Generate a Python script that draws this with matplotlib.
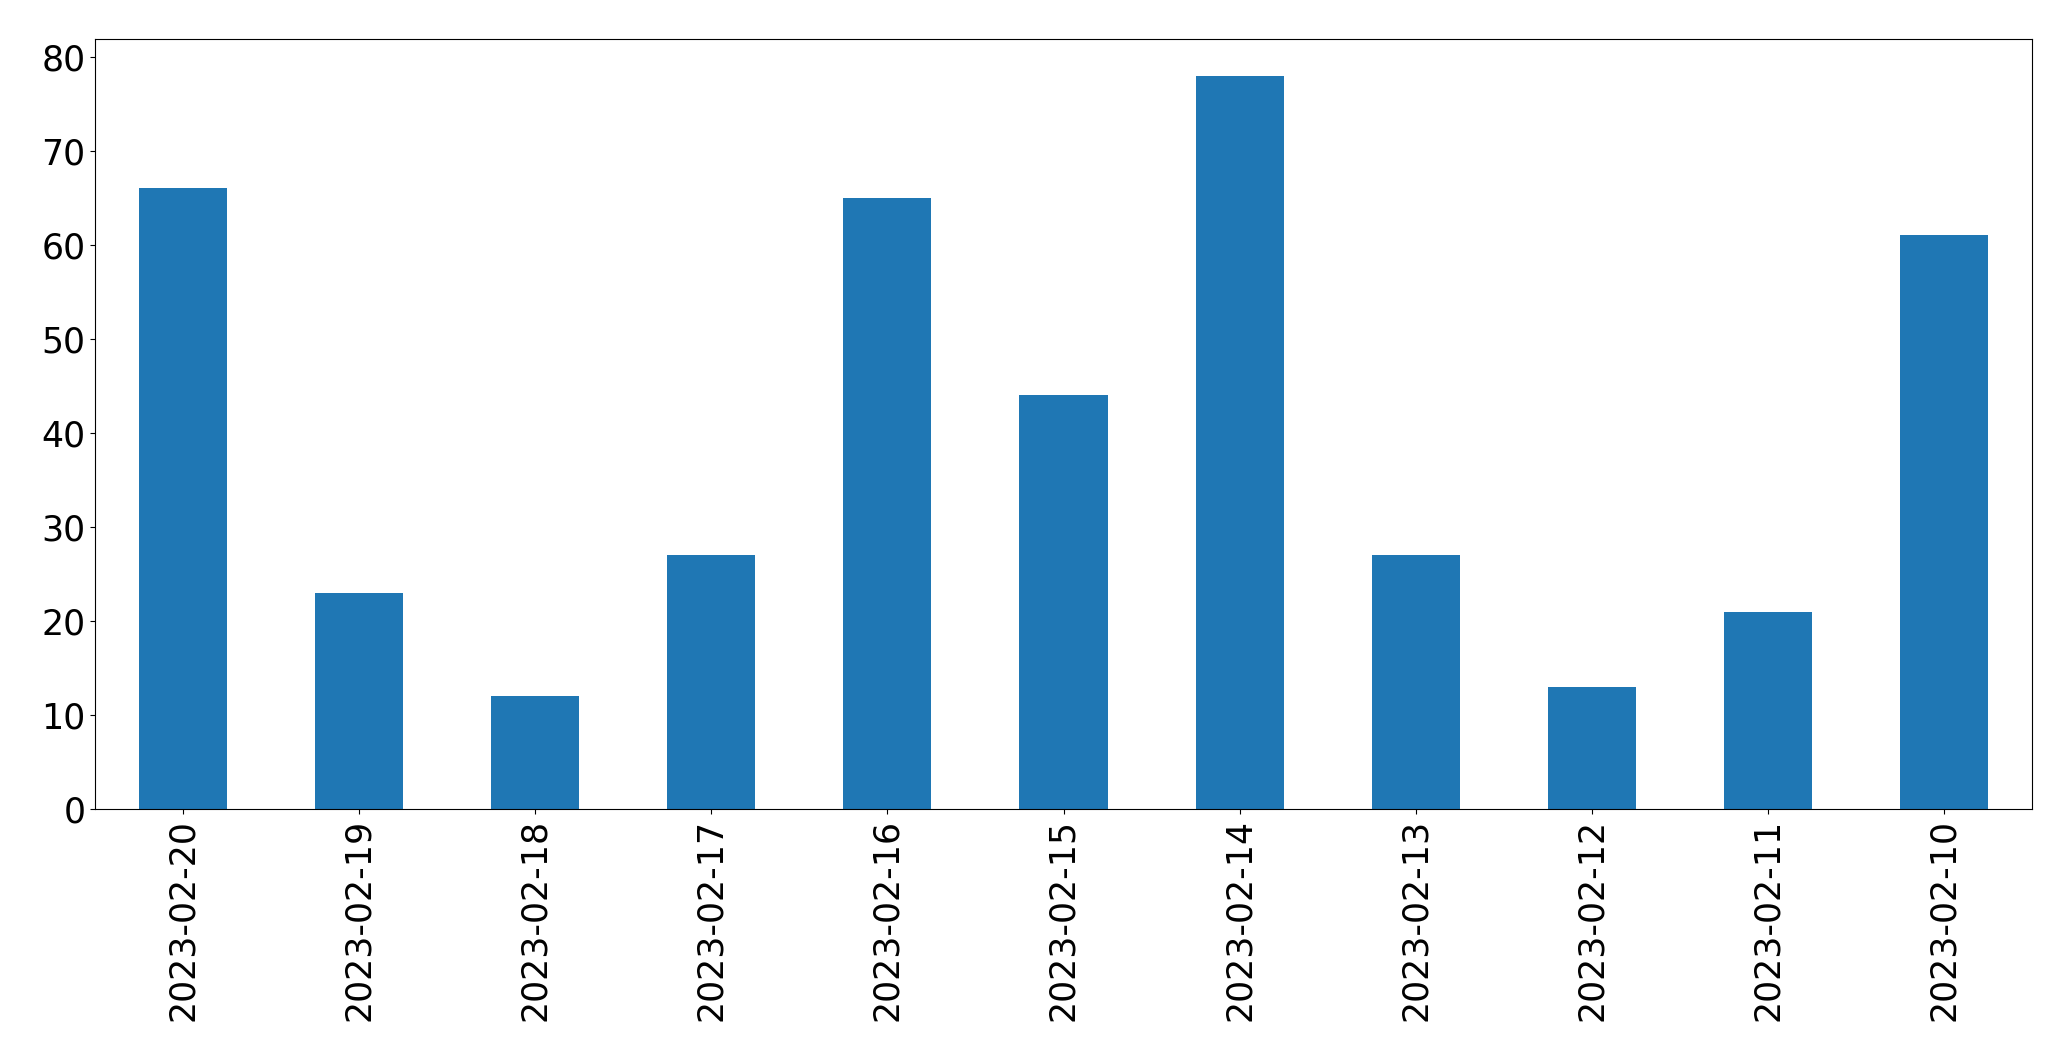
import numpy as np
import pandas as pd
import matplotlib
matplotlib.use('Agg')
import matplotlib.pyplot as plt

dates = ['2023-02-20', '2023-02-19', '2023-02-18', '2023-02-17', '2023-02-16',
         '2023-02-15', '2023-02-14', '2023-02-13', '2023-02-12', '2023-02-11',
         '2023-02-10']
counts = [66, 23, 12, 27, 65, 44, 78, 27, 13, 21, 61]

s = pd.Series(counts, index=dates)

fig = plt.figure(figsize=(20.71, 10.61), dpi=100)
ax = fig.add_axes([95 / 2071, 252 / 1061, 1937 / 2071, 770 / 1061])
s.plot(kind='bar', ax=ax, color='#1f77b4')
ax.tick_params(axis='both', labelsize=25)
ax.set_ylim(0, max(counts) * 1.05)
fig.savefig('out.png', dpi=100)
